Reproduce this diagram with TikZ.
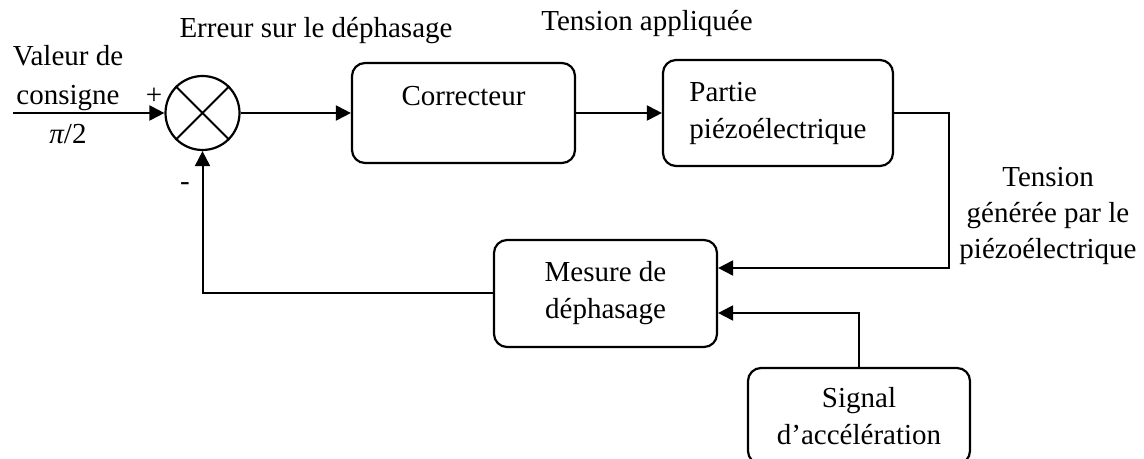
\documentclass[tikz,border=0pt]{standalone}
\usepackage{fontspec}
\setmainfont{Liberation Serif}
\usetikzlibrary{arrows.meta, positioning}
\tikzset{
    bloc/.style={draw, rectangle, rounded corners=6.5pt, line width=1.1pt, font=\fontsize{14.5}{18.5}\selectfont, align=center, inner sep=0pt},
    sommateur/.style={draw, circle, line width=1.1pt, minimum size=37pt, inner sep=0pt},
    fleche/.style={-{Triangle[length=7.5pt, width=7.5pt]}, line width=1pt},
    etiquette/.style={font=\fontsize{14.5}{18.5}\selectfont, align=center, inner sep=0pt},
}

\begin{document}
\begin{tikzpicture}[x=0.5pt, y=-0.5pt]
    \useasboundingbox (0,0) rectangle (1144,459);
    % Blocs
    \node[sommateur] (somme) at (202.5,113) {};
    \draw[line width=1pt] (somme.north west) -- (somme.south east)
                          (somme.north east) -- (somme.south west);
    \node[bloc, minimum width=111.5pt, minimum height=50pt, text height=10pt, text depth=17pt] (correcteur) at (463.5,113) {Correcteur};
    \node[bloc, align=left, minimum width=115pt, minimum height=53pt] (partie) at (778,113) {Partie\\piézoélectrique};
    \node[bloc, minimum width=111.5pt, minimum height=53.5pt] (mesure) at (605.5,293.5) {Mesure de\\déphasage};
    \node[bloc, minimum width=111pt, minimum height=48pt] (signal) at (859,416) {Signal\\d’accélération};

    % Textes
    \node[etiquette, font=\fontsize{14.5}{19.5}\selectfont] (consigne) at (68,95) {Valeur de\\consigne\\{\itshape π}/2};
    \node[etiquette] (plus) at (154,96) {+};
    \node[etiquette] (moins) at (185,187) {-};
    \node[etiquette, anchor=base] (erreur) at (316,38) {Erreur sur le déphasage};
    \node[etiquette, anchor=base] (tension) at (647,31) {Tension appliquée};
    \node[etiquette, font=\fontsize{14.5}{18}\selectfont] (generee) at (1048,215.5) {Tension\\générée par le\\piézoélectrique};

    % Liaisons
    \coordinate (entree) at (13,113);
    \draw[fleche] (entree) -- (somme.west);
    \draw[fleche] (somme.east) -- (correcteur.west);
    \draw[fleche] (correcteur.east) -- (partie.west);
    \draw[fleche] (partie.east) -- ++(55,0) |- ([yshift=12.75pt]mesure.east);
    \draw[fleche] (signal.north) |- ([yshift=-9.75pt]mesure.east);
    \draw[fleche] (mesure.west) -| (somme.south);
\end{tikzpicture}
\end{document}
